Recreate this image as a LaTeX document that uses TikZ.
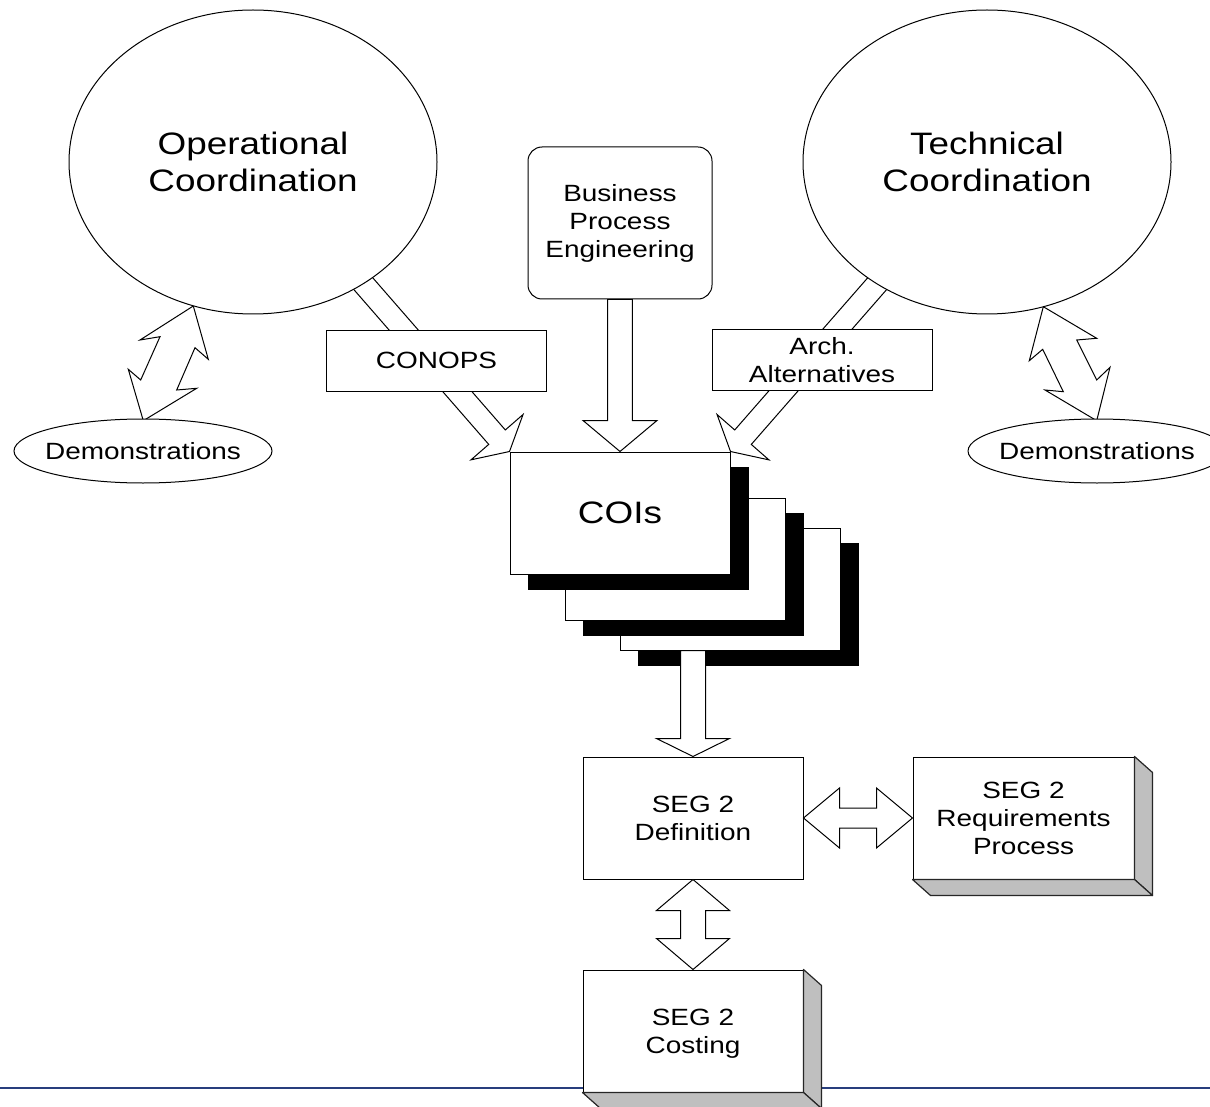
\documentclass[tikz,border=0pt]{standalone}
\usepackage{fontspec}
\setmainfont{Liberation Sans}[FakeStretch=1.19]
\usetikzlibrary{calc,shapes.geometric}
\definecolor{footerblue}{RGB}{40,62,125}
\pgfdeclarelayer{bg}
\pgfdeclarelayer{behind}
\pgfsetlayers{bg,behind,main}

\tikzset{
  ink/.style={draw=black, line width=1pt, fill=white, line join=miter},
  bigtext/.style={font=\fontsize{31}{37}\selectfont, align=center},
  smalltext/.style={font=\fontsize{23.5}{28}\selectfont, align=center},
  coordellipse/.style={ink, ellipse, inner sep=0pt, minimum width=368pt, minimum height=304pt, bigtext},
  demoellipse/.style={ink, ellipse, inner ysep=0pt, inner xsep=-12pt, minimum width=258pt, minimum height=64pt, smalltext},
  card/.style={ink, rectangle, inner sep=0pt, minimum width=220pt, minimum height=122pt},
  labelcard/.style={ink, rectangle, inner sep=0pt, minimum width=220pt, minimum height=61pt, smalltext},
  procbox/.style={ink, rectangle, rounded corners=14pt, inner sep=0pt, minimum width=184pt, minimum height=152pt, smalltext},
  inkshadow/.style={fill=black, draw=black, line width=1pt},
  sideface/.style={draw=black!85, line width=1.2pt, fill=black!25, line join=round},
  footer/.style={draw=footerblue, line width=2pt},
}

% single block arrow: start, tip, shaft half width, head half width, head length
\newcommand\singleblock[5]{%
  \coordinate (sb-head) at ($(#2)!#5!(#1)$);
  \draw[ink] ($(#1)!#3!90:(#2)$) -- ($(sb-head)!#3!-90:(#1)$)
    -- ($(sb-head)!#4!-90:(#1)$) -- (#2) -- ($(sb-head)!#4!90:(#1)$)
    -- ($(sb-head)!#3!90:(#1)$) -- ($(#1)!#3!-90:(#2)$) -- cycle;}

% double block arrow: end, end, shaft half width, head half width, head length
\newcommand\doubleblock[5]{%
  \coordinate (db-a) at ($(#1)!#5!(#2)$);
  \coordinate (db-b) at ($(#2)!#5!(#1)$);
  \draw[ink] (#1) -- ($(db-a)!#4!90:(#2)$) -- ($(db-a)!#3!90:(#2)$)
    -- ($(db-b)!#3!-90:(#1)$) -- ($(db-b)!#4!-90:(#1)$) -- (#2)
    -- ($(db-b)!#4!90:(#1)$) -- ($(db-b)!#3!90:(#1)$)
    -- ($(db-a)!#3!-90:(#2)$) -- ($(db-a)!#4!-90:(#2)$) -- cycle;}

% bevelled right and bottom faces of a card
\newcommand\extrude[1]{%
  \draw[sideface] (#1.north east) -- ($(#1.north east)+(18,16)$)
    -- ($(#1.south east)+(18,16)$) -- (#1.south east) -- cycle;
  \draw[sideface] (#1.south west) -- (#1.south east)
    -- ($(#1.south east)+(18,16)$) -- ($(#1.south west)+(18,16)$) -- cycle;}

\begin{document}
\begin{tikzpicture}[x=1pt,y=-1pt]
\useasboundingbox (0,0) rectangle (1210,1107);

% coordination bubbles
\node[coordellipse] (op) at (253,162) {Operational\\Coordination};
\node[coordellipse] (tech) at (987,162) {Technical\\Coordination};
\node[demoellipse] (demoL) at (143,451) {Demonstrations};
\node[demoellipse] (demoR) at (1097,451) {Demonstrations};

% inputs
\node[procbox] (bpe) at (620,223) {Business\\Process\\Engineering};
\node[labelcard] (conops) at (436.5,360.5) {CONOPS};
\node[labelcard] (arch) at (822,360) {Arch.\\Alternatives};

% stack of COI cards
\foreach \ox/\oy in {110/76,55/46}{
  \draw[inkshadow] (528+\ox,467+\oy) rectangle ++(220,122);
  \draw[ink] (510+\ox,452+\oy) rectangle ++(220,122);
}
\draw[inkshadow] (528,467) rectangle ++(220,122);
\node[card, bigtext] (coi) at (620,513) {COIs};
\coordinate (coiout) at (693,650.5);

% SEG 2 blocks
\node[card, smalltext] (def) at (693,818) {SEG 2\\Definition};
\node[card, smalltext, minimum width=221pt] (req) at (1023.5,818) {SEG 2\\Requirements\\Process};
\node[card, smalltext, text depth=0pt] (cost) at (693,1031) {SEG 2\\Costing};
\extrude{req}
\extrude{cost}

% flows between blocks
\singleblock{coiout}{def.north}{12.5pt}{36.5pt}{18pt}
\doubleblock{def.south}{cost.north}{12.5pt}{36.5pt}{31pt}
\doubleblock{def.east}{req.west}{10pt}{30pt}{36pt}

\begin{pgfonlayer}{bg}
  \fill[white] (0,0) rectangle (1210,1107);
\end{pgfonlayer}

\begin{pgfonlayer}{behind}
  \draw[footer] (0,1088) -- (1210,1088);
  \coordinate (opOut) at (350,268.4);
  \coordinate (techOut) at (890,269);
  \singleblock{opOut}{coi.north west}{11pt}{34.5pt}{19pt}
  \singleblock{techOut}{coi.north east}{11pt}{34.5pt}{19pt}
  \singleblock{bpe.south}{coi.north}{12.3pt}{37pt}{31pt}
  % jagged two-way links to the demonstrations
  \draw[ink] (193.3,306) -- (140,340) -- (160,336.7) -- (140.7,380) -- (128.3,369.3)
    -- (143.3,420.7) -- (196.7,388.3) -- (176.7,390) -- (195,347.7) -- (208.3,359.3) -- cycle;
  \draw[ink] (1043.3,306.7) -- (1096.7,338.3) -- (1076.7,340) -- (1096.7,380) -- (1110,367.3)
    -- (1096.7,420.7) -- (1045,390) -- (1063.3,391.7) -- (1042.7,349.3) -- (1029.3,360.7) -- cycle;
\end{pgfonlayer}
\end{tikzpicture}
\end{document}
